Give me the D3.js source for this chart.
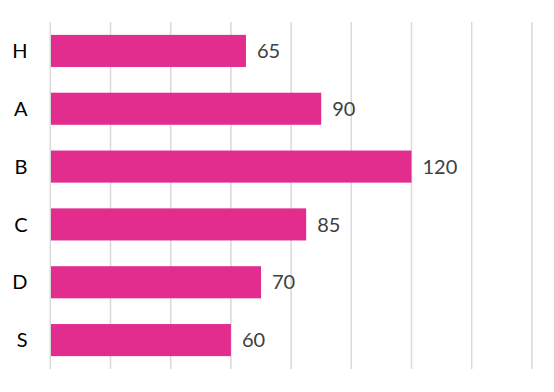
<!DOCTYPE html>
<html><head><meta charset="utf-8">
<script src="https://cdn.jsdelivr.net/npm/d3@7"></script>
<style>body{margin:0;background:#fff}svg{display:block}</style>
</head><body><svg id="c" width="554" height="392"></svg>
<script>
const categories = ["H","A","B","C","D","S"];
const values = [65, 90, 120, 85, 70, 60];
const ticks = [0,20,40,60,80,100,120,140,160];

const svg = d3.select("#c");
const plotLeft = 50.3, plotRight = 531.9, plotTop = 22, plotBottom = 369;
const x = d3.scaleLinear().domain([0,160]).range([plotLeft,plotRight]);
const y = d3.scaleBand().domain(categories).range([plotTop,plotBottom]).paddingInner(0.445).paddingOuter(0.2225);

svg.append("g").selectAll("line").data(ticks).join("line")
  .attr("x1", d=>x(d)).attr("x2", d=>x(d)).attr("y1", plotTop).attr("y2", plotBottom)
  .attr("stroke","#d9d9d9").attr("stroke-width",1.5);

const data = categories.map((c,i)=>({c, v: values[i]}));
svg.append("g").selectAll("rect").data(data).join("rect")
  .attr("x", x(0)+0.7).attr("y", d=>y(d.c)).attr("width", d=>x(d.v)-x(0)-0.7).attr("height", y.bandwidth())
  .attr("fill","#E22D8F");

svg.append("g").selectAll("text").data(data).join("text")
  .attr("x", d=>x(d.v)+11).attr("y", d=>y(d.c)+y.bandwidth()/2).attr("dy","0.36em")
  .attr("font-family","Lato, 'Open Sans', sans-serif").attr("font-size",20).attr("fill","#404040")
  .text(d=>d.v);

svg.append("g").selectAll("text").data(categories).join("text")
  .attr("x", 27.5).attr("y", d=>y(d)+y.bandwidth()/2).attr("dy","0.36em").attr("text-anchor","end")
  .attr("font-family","Lato, 'Open Sans', sans-serif").attr("font-size",20).attr("fill","#000")
  .text(d=>d);
</script></body></html>
